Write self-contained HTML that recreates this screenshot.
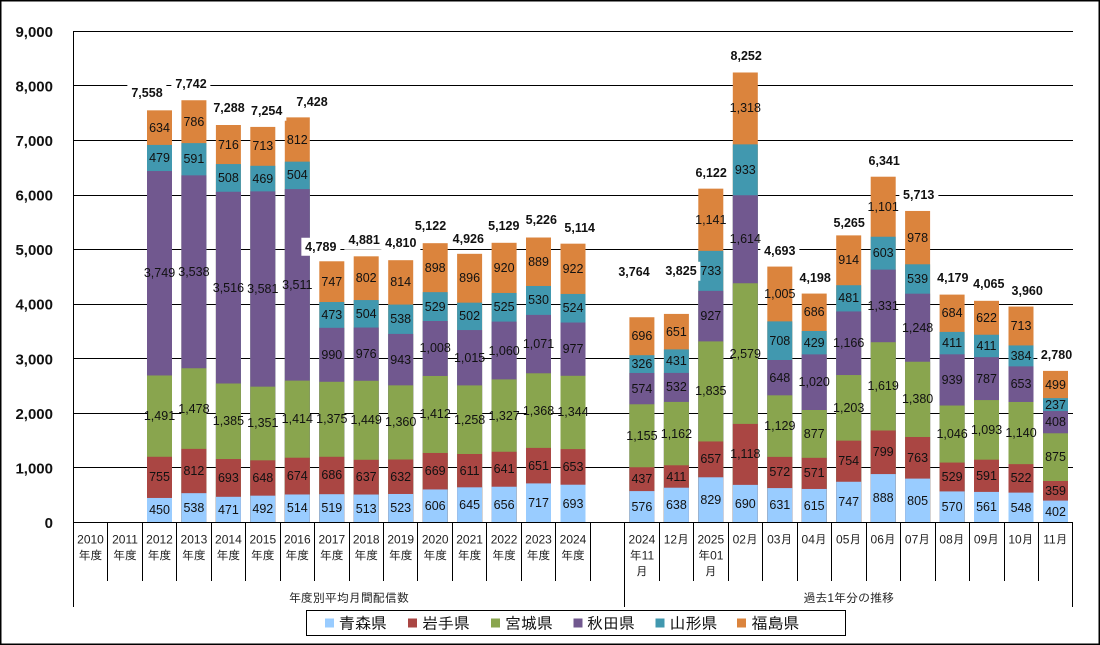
<!DOCTYPE html>
<html><head><meta charset="utf-8">
<style>
html,body{margin:0;padding:0;background:#fff;}
#c{position:relative;width:1100px;height:645px;overflow:hidden;background:#fff;}
svg{position:absolute;left:0;top:0;}
.b{position:absolute;left:calc(var(--x)*1px);top:0;width:0;height:0;}
.b span{position:absolute;left:0;top:calc(522.5px - var(--v)*0.0545333px);transform:translate(-50%,-50%);white-space:nowrap;font:12.5px "Liberation Sans",sans-serif;line-height:1;color:#111;}
.t{position:absolute;transform:translate(-50%,-50%);white-space:nowrap;font:bold 12.5px "Liberation Sans",sans-serif;line-height:1;color:#111;background:#fff;padding:3px 4px;}
.ya{font:bold 15px "Liberation Sans",sans-serif;fill:#111;}
.xl{font:12px "Liberation Sans","IPAGothic",sans-serif;fill:#222;}
.lg{font:16px "Liberation Sans","IPAGothic",sans-serif;fill:#111;}
</style></head><body>
<div id="c">
<svg width="1100" height="645" viewBox="0 0 1100 645">
<rect x="0.75" y="0.75" width="1098.5" height="643.5" fill="#fff" stroke="#000" stroke-width="1.5"/>
<!-- gridlines -->
<g stroke="#000" stroke-width="1" shape-rendering="crispEdges">
<line x1="73" y1="31.5" x2="1073" y2="31.5"/>
<line x1="73" y1="85.5" x2="1073" y2="85.5"/>
<line x1="73" y1="140.5" x2="1073" y2="140.5"/>
<line x1="73" y1="195.5" x2="1073" y2="195.5"/>
<line x1="73" y1="249.5" x2="1073" y2="249.5"/>
<line x1="73" y1="304.5" x2="1073" y2="304.5"/>
<line x1="73" y1="358.5" x2="1073" y2="358.5"/>
<line x1="73" y1="413.5" x2="1073" y2="413.5"/>
<line x1="73" y1="467.5" x2="1073" y2="467.5"/>
</g>
<!-- bars -->
<g transform="translate(0,522.5) scale(1,-0.0545333)">
<g fill="#DB843D">
<rect x="147" y="0" width="25" height="7558"/><rect x="181.4" y="0" width="25" height="7743"/><rect x="215.9" y="0" width="25" height="7289"/><rect x="250.3" y="0" width="25" height="7254"/><rect x="284.8" y="0" width="25" height="7429"/><rect x="319.3" y="0" width="25" height="4790"/><rect x="353.7" y="0" width="25" height="4881"/><rect x="388.2" y="0" width="25" height="4810"/><rect x="422.7" y="0" width="25" height="5122"/><rect x="457.1" y="0" width="25" height="4927"/><rect x="491.6" y="0" width="25" height="5129"/><rect x="526" y="0" width="25" height="5226"/><rect x="560.5" y="0" width="25" height="5113"/>
<rect x="629.4" y="0" width="25" height="3764"/><rect x="663.9" y="0" width="25" height="3825"/><rect x="698.3" y="0" width="25" height="6122"/><rect x="732.8" y="0" width="25" height="8252"/><rect x="767.3" y="0" width="25" height="4693"/><rect x="801.7" y="0" width="25" height="4198"/><rect x="836.2" y="0" width="25" height="5265"/><rect x="870.7" y="0" width="25" height="6341"/><rect x="905.1" y="0" width="25" height="5713"/><rect x="939.6" y="0" width="25" height="4179"/><rect x="974" y="0" width="25" height="4065"/><rect x="1008.5" y="0" width="25" height="3960"/><rect x="1043" y="0" width="25" height="2780"/>
</g>
<g fill="#4198AF">
<rect x="147" y="0" width="25" height="6924"/><rect x="181.4" y="0" width="25" height="6957"/><rect x="215.9" y="0" width="25" height="6573"/><rect x="250.3" y="0" width="25" height="6541"/><rect x="284.8" y="0" width="25" height="6617"/><rect x="319.3" y="0" width="25" height="4043"/><rect x="353.7" y="0" width="25" height="4079"/><rect x="388.2" y="0" width="25" height="3996"/><rect x="422.7" y="0" width="25" height="4224"/><rect x="457.1" y="0" width="25" height="4031"/><rect x="491.6" y="0" width="25" height="4209"/><rect x="526" y="0" width="25" height="4337"/><rect x="560.5" y="0" width="25" height="4191"/>
<rect x="629.4" y="0" width="25" height="3068"/><rect x="663.9" y="0" width="25" height="3174"/><rect x="698.3" y="0" width="25" height="4981"/><rect x="732.8" y="0" width="25" height="6934"/><rect x="767.3" y="0" width="25" height="3688"/><rect x="801.7" y="0" width="25" height="3512"/><rect x="836.2" y="0" width="25" height="4351"/><rect x="870.7" y="0" width="25" height="5240"/><rect x="905.1" y="0" width="25" height="4735"/><rect x="939.6" y="0" width="25" height="3495"/><rect x="974" y="0" width="25" height="3443"/><rect x="1008.5" y="0" width="25" height="3247"/><rect x="1043" y="0" width="25" height="2281"/>
</g>
<g fill="#71588F">
<rect x="147" y="0" width="25" height="6445"/><rect x="181.4" y="0" width="25" height="6366"/><rect x="215.9" y="0" width="25" height="6065"/><rect x="250.3" y="0" width="25" height="6072"/><rect x="284.8" y="0" width="25" height="6113"/><rect x="319.3" y="0" width="25" height="3570"/><rect x="353.7" y="0" width="25" height="3575"/><rect x="388.2" y="0" width="25" height="3458"/><rect x="422.7" y="0" width="25" height="3695"/><rect x="457.1" y="0" width="25" height="3529"/><rect x="491.6" y="0" width="25" height="3684"/><rect x="526" y="0" width="25" height="3807"/><rect x="560.5" y="0" width="25" height="3667"/>
<rect x="629.4" y="0" width="25" height="2742"/><rect x="663.9" y="0" width="25" height="2743"/><rect x="698.3" y="0" width="25" height="4248"/><rect x="732.8" y="0" width="25" height="6001"/><rect x="767.3" y="0" width="25" height="2980"/><rect x="801.7" y="0" width="25" height="3083"/><rect x="836.2" y="0" width="25" height="3870"/><rect x="870.7" y="0" width="25" height="4637"/><rect x="905.1" y="0" width="25" height="4196"/><rect x="939.6" y="0" width="25" height="3084"/><rect x="974" y="0" width="25" height="3032"/><rect x="1008.5" y="0" width="25" height="2863"/><rect x="1043" y="0" width="25" height="2044"/>
</g>
<g fill="#89A54E">
<rect x="147" y="0" width="25" height="2696"/><rect x="181.4" y="0" width="25" height="2828"/><rect x="215.9" y="0" width="25" height="2549"/><rect x="250.3" y="0" width="25" height="2491"/><rect x="284.8" y="0" width="25" height="2602"/><rect x="319.3" y="0" width="25" height="2580"/><rect x="353.7" y="0" width="25" height="2599"/><rect x="388.2" y="0" width="25" height="2515"/><rect x="422.7" y="0" width="25" height="2687"/><rect x="457.1" y="0" width="25" height="2514"/><rect x="491.6" y="0" width="25" height="2624"/><rect x="526" y="0" width="25" height="2736"/><rect x="560.5" y="0" width="25" height="2690"/>
<rect x="629.4" y="0" width="25" height="2168"/><rect x="663.9" y="0" width="25" height="2211"/><rect x="698.3" y="0" width="25" height="3321"/><rect x="732.8" y="0" width="25" height="4387"/><rect x="767.3" y="0" width="25" height="2332"/><rect x="801.7" y="0" width="25" height="2063"/><rect x="836.2" y="0" width="25" height="2704"/><rect x="870.7" y="0" width="25" height="3306"/><rect x="905.1" y="0" width="25" height="2948"/><rect x="939.6" y="0" width="25" height="2145"/><rect x="974" y="0" width="25" height="2245"/><rect x="1008.5" y="0" width="25" height="2210"/><rect x="1043" y="0" width="25" height="1636"/>
</g>
<g fill="#AA4643">
<rect x="147" y="0" width="25" height="1205"/><rect x="181.4" y="0" width="25" height="1350"/><rect x="215.9" y="0" width="25" height="1164"/><rect x="250.3" y="0" width="25" height="1140"/><rect x="284.8" y="0" width="25" height="1188"/><rect x="319.3" y="0" width="25" height="1205"/><rect x="353.7" y="0" width="25" height="1150"/><rect x="388.2" y="0" width="25" height="1155"/><rect x="422.7" y="0" width="25" height="1275"/><rect x="457.1" y="0" width="25" height="1256"/><rect x="491.6" y="0" width="25" height="1297"/><rect x="526" y="0" width="25" height="1368"/><rect x="560.5" y="0" width="25" height="1346"/>
<rect x="629.4" y="0" width="25" height="1013"/><rect x="663.9" y="0" width="25" height="1049"/><rect x="698.3" y="0" width="25" height="1486"/><rect x="732.8" y="0" width="25" height="1808"/><rect x="767.3" y="0" width="25" height="1203"/><rect x="801.7" y="0" width="25" height="1186"/><rect x="836.2" y="0" width="25" height="1501"/><rect x="870.7" y="0" width="25" height="1687"/><rect x="905.1" y="0" width="25" height="1568"/><rect x="939.6" y="0" width="25" height="1099"/><rect x="974" y="0" width="25" height="1152"/><rect x="1008.5" y="0" width="25" height="1070"/><rect x="1043" y="0" width="25" height="761"/>
</g>
<g fill="#99CCFF">
<rect x="147" y="0" width="25" height="450"/><rect x="181.4" y="0" width="25" height="538"/><rect x="215.9" y="0" width="25" height="471"/><rect x="250.3" y="0" width="25" height="492"/><rect x="284.8" y="0" width="25" height="514"/><rect x="319.3" y="0" width="25" height="519"/><rect x="353.7" y="0" width="25" height="513"/><rect x="388.2" y="0" width="25" height="523"/><rect x="422.7" y="0" width="25" height="606"/><rect x="457.1" y="0" width="25" height="645"/><rect x="491.6" y="0" width="25" height="656"/><rect x="526" y="0" width="25" height="717"/><rect x="560.5" y="0" width="25" height="693"/>
<rect x="629.4" y="0" width="25" height="576"/><rect x="663.9" y="0" width="25" height="638"/><rect x="698.3" y="0" width="25" height="829"/><rect x="732.8" y="0" width="25" height="690"/><rect x="767.3" y="0" width="25" height="631"/><rect x="801.7" y="0" width="25" height="615"/><rect x="836.2" y="0" width="25" height="747"/><rect x="870.7" y="0" width="25" height="888"/><rect x="905.1" y="0" width="25" height="805"/><rect x="939.6" y="0" width="25" height="570"/><rect x="974" y="0" width="25" height="561"/><rect x="1008.5" y="0" width="25" height="548"/><rect x="1043" y="0" width="25" height="402"/>
</g>
</g>
<!-- axes & ticks -->
<g stroke="#000" stroke-width="1" shape-rendering="crispEdges">
<line x1="73.5" y1="31" x2="73.5" y2="607"/>
<line x1="73" y1="522.5" x2="1073" y2="522.5"/>
<line x1="624.5" y1="522" x2="624.5" y2="607"/>
<line x1="1072.5" y1="522" x2="1072.5" y2="607"/>
<line x1="107.5" y1="522" x2="107.5" y2="581"/><line x1="142.5" y1="522" x2="142.5" y2="581"/><line x1="176.5" y1="522" x2="176.5" y2="581"/><line x1="211.5" y1="522" x2="211.5" y2="581"/><line x1="245.5" y1="522" x2="245.5" y2="581"/><line x1="280.5" y1="522" x2="280.5" y2="581"/><line x1="314.5" y1="522" x2="314.5" y2="581"/><line x1="349.5" y1="522" x2="349.5" y2="581"/><line x1="383.5" y1="522" x2="383.5" y2="581"/><line x1="417.5" y1="522" x2="417.5" y2="581"/><line x1="452.5" y1="522" x2="452.5" y2="581"/><line x1="486.5" y1="522" x2="486.5" y2="581"/><line x1="521.5" y1="522" x2="521.5" y2="581"/><line x1="555.5" y1="522" x2="555.5" y2="581"/><line x1="590.5" y1="522" x2="590.5" y2="581"/>
<line x1="659.5" y1="522" x2="659.5" y2="581"/><line x1="693.5" y1="522" x2="693.5" y2="581"/><line x1="728.5" y1="522" x2="728.5" y2="581"/><line x1="762.5" y1="522" x2="762.5" y2="581"/><line x1="797.5" y1="522" x2="797.5" y2="581"/><line x1="831.5" y1="522" x2="831.5" y2="581"/><line x1="866.5" y1="522" x2="866.5" y2="581"/><line x1="900.5" y1="522" x2="900.5" y2="581"/><line x1="935.5" y1="522" x2="935.5" y2="581"/><line x1="969.5" y1="522" x2="969.5" y2="581"/><line x1="1004.5" y1="522" x2="1004.5" y2="581"/><line x1="1038.5" y1="522" x2="1038.5" y2="581"/>
</g>
<!-- y axis labels -->
<g class="ya" text-anchor="end">
<text x="53" y="37.1">9,000</text>
<text x="53" y="91.6">8,000</text>
<text x="53" y="146.1">7,000</text>
<text x="53" y="200.7">6,000</text>
<text x="53" y="255.2">5,000</text>
<text x="53" y="309.7">4,000</text>
<text x="53" y="364.3">3,000</text>
<text x="53" y="418.8">2,000</text>
<text x="53" y="473.4">1,000</text>
<text x="53" y="527.9">0</text>
</g>
<!-- category labels -->
<g class="xl" text-anchor="middle">
<text x="90.5" y="543.5">2010</text><text x="90.5" y="559.5">年度</text>
<text x="125" y="543.5">2011</text><text x="125" y="559.5">年度</text>
<text x="159.5" y="543.5">2012</text><text x="159.5" y="559.5">年度</text>
<text x="193.9" y="543.5">2013</text><text x="193.9" y="559.5">年度</text>
<text x="228.4" y="543.5">2014</text><text x="228.4" y="559.5">年度</text>
<text x="262.8" y="543.5">2015</text><text x="262.8" y="559.5">年度</text>
<text x="297.3" y="543.5">2016</text><text x="297.3" y="559.5">年度</text>
<text x="331.8" y="543.5">2017</text><text x="331.8" y="559.5">年度</text>
<text x="366.2" y="543.5">2018</text><text x="366.2" y="559.5">年度</text>
<text x="400.7" y="543.5">2019</text><text x="400.7" y="559.5">年度</text>
<text x="435.2" y="543.5">2020</text><text x="435.2" y="559.5">年度</text>
<text x="469.6" y="543.5">2021</text><text x="469.6" y="559.5">年度</text>
<text x="504.1" y="543.5">2022</text><text x="504.1" y="559.5">年度</text>
<text x="538.5" y="543.5">2023</text><text x="538.5" y="559.5">年度</text>
<text x="573" y="543.5">2024</text><text x="573" y="559.5">年度</text>
<text x="641.9" y="543.5">2024</text><text x="641.9" y="559.5">年11</text><text x="641.9" y="575.5">月</text>
<text x="676.4" y="543.5">12月</text>
<text x="710.8" y="543.5">2025</text><text x="710.8" y="559.5">年01</text><text x="710.8" y="575.5">月</text>
<text x="745.3" y="543.5">02月</text>
<text x="779.8" y="543.5">03月</text>
<text x="814.2" y="543.5">04月</text>
<text x="848.7" y="543.5">05月</text>
<text x="883.2" y="543.5">06月</text>
<text x="917.6" y="543.5">07月</text>
<text x="952.1" y="543.5">08月</text>
<text x="986.5" y="543.5">09月</text>
<text x="1021" y="543.5">10月</text>
<text x="1055.5" y="543.5">11月</text>
<text x="348.9" y="601.8">年度別平均月間配信数</text>
<text x="848.7" y="601.8">過去1年分の推移</text>
</g>
<!-- legend -->
<rect x="306.5" y="610.5" width="539" height="25" fill="#fff" stroke="#000" stroke-width="1"/>
<rect x="325" y="618.5" width="9" height="9" fill="#99CCFF"/>
<rect x="408" y="618.5" width="9" height="9" fill="#AA4643"/>
<rect x="491" y="618.5" width="9" height="9" fill="#89A54E"/>
<rect x="573.5" y="618.5" width="9" height="9" fill="#71588F"/>
<rect x="655.5" y="618.5" width="9" height="9" fill="#4198AF"/>
<rect x="737" y="618.5" width="9" height="9" fill="#DB843D"/>
<g class="lg">
<text x="339" y="629">青森県</text>
<text x="422" y="629">岩手県</text>
<text x="505" y="629">宮城県</text>
<text x="587" y="629">秋田県</text>
<text x="669.5" y="629">山形県</text>
<text x="751.5" y="629">福島県</text>
</g>
</svg>

<div class="b" style="--x:159.5"><span style="--v:225">450</span><span style="--v:827.5">755</span><span style="--v:1950.5">1,491</span><span style="--v:4570.5">3,749</span><span style="--v:6684.5">479</span><span style="--v:7241">634</span></div>
<div class="b" style="--x:193.9"><span style="--v:269">538</span><span style="--v:944">812</span><span style="--v:2089">1,478</span><span style="--v:4597">3,538</span><span style="--v:6661.5">591</span><span style="--v:7350">786</span></div>
<div class="b" style="--x:228.4"><span style="--v:235.5">471</span><span style="--v:817.5">693</span><span style="--v:1856.5">1,385</span><span style="--v:4307">3,516</span><span style="--v:6319">508</span><span style="--v:6931">716</span></div>
<div class="b" style="--x:262.8"><span style="--v:246">492</span><span style="--v:816">648</span><span style="--v:1815.5">1,351</span><span style="--v:4281.5">3,581</span><span style="--v:6306.5">469</span><span style="--v:6897.5">713</span></div>
<div class="b" style="--x:297.3"><span style="--v:257">514</span><span style="--v:851">674</span><span style="--v:1895">1,414</span><span style="--v:4357.5">3,511</span><span style="--v:6365">504</span><span style="--v:7023">812</span></div>
<div class="b" style="--x:331.8"><span style="--v:259.5">519</span><span style="--v:862">686</span><span style="--v:1892.5">1,375</span><span style="--v:3075">990</span><span style="--v:3806.5">473</span><span style="--v:4416.5">747</span></div>
<div class="b" style="--x:366.2"><span style="--v:256.5">513</span><span style="--v:831.5">637</span><span style="--v:1874.5">1,449</span><span style="--v:3087">976</span><span style="--v:3827">504</span><span style="--v:4480">802</span></div>
<div class="b" style="--x:400.7"><span style="--v:261.5">523</span><span style="--v:839">632</span><span style="--v:1835">1,360</span><span style="--v:2986.5">943</span><span style="--v:3727">538</span><span style="--v:4403">814</span></div>
<div class="b" style="--x:435.2"><span style="--v:303">606</span><span style="--v:940.5">669</span><span style="--v:1981">1,412</span><span style="--v:3191">1,008</span><span style="--v:3959.5">529</span><span style="--v:4673">898</span></div>
<div class="b" style="--x:469.6"><span style="--v:322.5">645</span><span style="--v:950.5">611</span><span style="--v:1885">1,258</span><span style="--v:3021.5">1,015</span><span style="--v:3780">502</span><span style="--v:4479">896</span></div>
<div class="b" style="--x:504.1"><span style="--v:328">656</span><span style="--v:976.5">641</span><span style="--v:1960.5">1,327</span><span style="--v:3154">1,060</span><span style="--v:3946.5">525</span><span style="--v:4669">920</span></div>
<div class="b" style="--x:538.5"><span style="--v:358.5">717</span><span style="--v:1042.5">651</span><span style="--v:2052">1,368</span><span style="--v:3271.5">1,071</span><span style="--v:4072">530</span><span style="--v:4781.5">889</span></div>
<div class="b" style="--x:573"><span style="--v:346.5">693</span><span style="--v:1019.5">653</span><span style="--v:2018">1,344</span><span style="--v:3178.5">977</span><span style="--v:3929">524</span><span style="--v:4652">922</span></div>
<div class="b" style="--x:641.9"><span style="--v:288">576</span><span style="--v:794.5">437</span><span style="--v:1590.5">1,155</span><span style="--v:2455">574</span><span style="--v:2905">326</span><span style="--v:3416">696</span></div>
<div class="b" style="--x:676.4"><span style="--v:319">638</span><span style="--v:843.5">411</span><span style="--v:1630">1,162</span><span style="--v:2477">532</span><span style="--v:2958.5">431</span><span style="--v:3499.5">651</span></div>
<div class="b" style="--x:710.8"><span style="--v:414.5">829</span><span style="--v:1157.5">657</span><span style="--v:2403.5">1,835</span><span style="--v:3784.5">927</span><span style="--v:4614.5">733</span><span style="--v:5551.5">1,141</span></div>
<div class="b" style="--x:745.3"><span style="--v:345">690</span><span style="--v:1249">1,118</span><span style="--v:3097.5">2,579</span><span style="--v:5194">1,614</span><span style="--v:6467.5">933</span><span style="--v:7593">1,318</span></div>
<div class="b" style="--x:779.8"><span style="--v:315.5">631</span><span style="--v:917">572</span><span style="--v:1767.5">1,129</span><span style="--v:2656">648</span><span style="--v:3334">708</span><span style="--v:4190.5">1,005</span></div>
<div class="b" style="--x:814.2"><span style="--v:307.5">615</span><span style="--v:900.5">571</span><span style="--v:1624.5">877</span><span style="--v:2573">1,020</span><span style="--v:3297.5">429</span><span style="--v:3855">686</span></div>
<div class="b" style="--x:848.7"><span style="--v:373.5">747</span><span style="--v:1124">754</span><span style="--v:2102.5">1,203</span><span style="--v:3287">1,166</span><span style="--v:4110.5">481</span><span style="--v:4808">914</span></div>
<div class="b" style="--x:883.2"><span style="--v:444">888</span><span style="--v:1287.5">799</span><span style="--v:2496.5">1,619</span><span style="--v:3971.5">1,331</span><span style="--v:4938.5">603</span><span style="--v:5790.5">1,101</span></div>
<div class="b" style="--x:917.6"><span style="--v:402.5">805</span><span style="--v:1186.5">763</span><span style="--v:2258">1,380</span><span style="--v:3572">1,248</span><span style="--v:4465.5">539</span><span style="--v:5224">978</span></div>
<div class="b" style="--x:952.1"><span style="--v:285">570</span><span style="--v:834.5">529</span><span style="--v:1622">1,046</span><span style="--v:2614.5">939</span><span style="--v:3289.5">411</span><span style="--v:3837">684</span></div>
<div class="b" style="--x:986.5"><span style="--v:280.5">561</span><span style="--v:856.5">591</span><span style="--v:1698.5">1,093</span><span style="--v:2638.5">787</span><span style="--v:3237.5">411</span><span style="--v:3754">622</span></div>
<div class="b" style="--x:1021"><span style="--v:274">548</span><span style="--v:809">522</span><span style="--v:1640">1,140</span><span style="--v:2536.5">653</span><span style="--v:3055">384</span><span style="--v:3603.5">713</span></div>
<div class="b" style="--x:1055.5"><span style="--v:201">402</span><span style="--v:581.5">359</span><span style="--v:1198.5">875</span><span style="--v:1840">408</span><span style="--v:2162.5">237</span><span style="--v:2530.5">499</span></div>

<div class="t" style="left:147px;top:93.3px">7,558</div>
<div class="t" style="left:191px;top:84px">7,742</div>
<div class="t" style="left:229px;top:108.3px">7,288</div>
<div class="t" style="left:266.7px;top:111px">7,254</div>
<div class="t" style="left:312px;top:101.7px">7,428</div>
<div class="t" style="left:320.8px;top:246.7px">4,789</div>
<div class="t" style="left:364.2px;top:240px">4,881</div>
<div class="t" style="left:400.8px;top:243.3px">4,810</div>
<div class="t" style="left:430.5px;top:226px">5,122</div>
<div class="t" style="left:468.3px;top:239.3px">4,926</div>
<div class="t" style="left:503.8px;top:226px">5,129</div>
<div class="t" style="left:541.3px;top:220px">5,226</div>
<div class="t" style="left:579.7px;top:228.3px">5,114</div>
<div class="t" style="left:634px;top:272px">3,764</div>
<div class="t" style="left:681px;top:271px">3,825</div>
<div class="t" style="left:711.2px;top:172.7px">6,122</div>
<div class="t" style="left:746.2px;top:55.7px">8,252</div>
<div class="t" style="left:779.8px;top:251px">4,693</div>
<div class="t" style="left:815.2px;top:277.7px">4,198</div>
<div class="t" style="left:849.2px;top:223.3px">5,265</div>
<div class="t" style="left:884.2px;top:160.7px">6,341</div>
<div class="t" style="left:918.7px;top:195px">5,713</div>
<div class="t" style="left:952.8px;top:278.3px">4,179</div>
<div class="t" style="left:988.8px;top:284.3px">4,065</div>
<div class="t" style="left:1027.2px;top:290.7px">3,960</div>
<div class="t" style="left:1056.5px;top:354.5px">2,780</div>
</div>
</body></html>
